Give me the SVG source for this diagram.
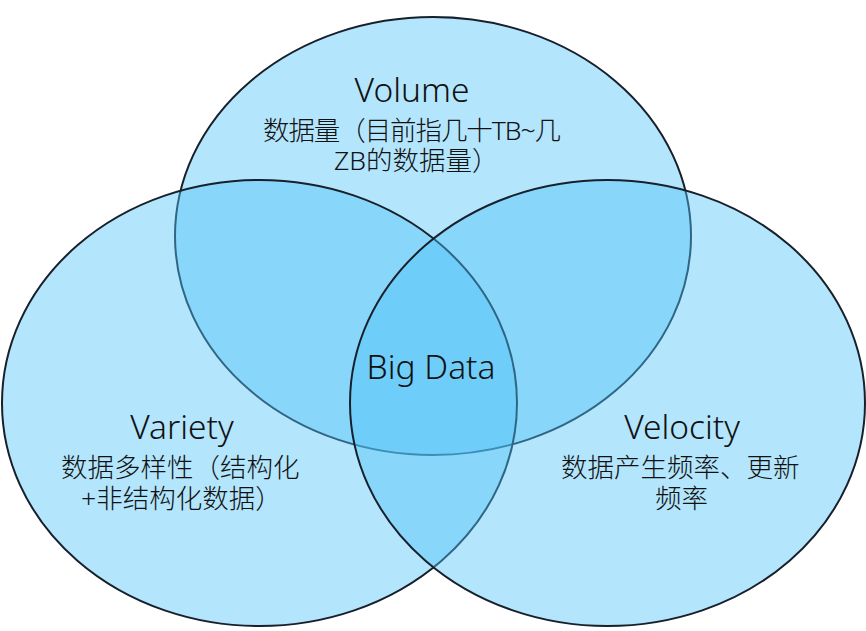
<svg xmlns="http://www.w3.org/2000/svg" width="866" height="631" viewBox="0 0 866 631">
  <style>
    .set { fill: #4fc3f7; fill-opacity: 0.43; stroke: #18202c; stroke-width: 2; }
    .title { font-family: "Noto Sans", "Open Sans", sans-serif; font-size: 33.5px; font-weight: 300; fill: #111; text-anchor: middle; }
    .desc { font-family: "Noto Sans", "Noto Sans CJK SC", sans-serif; font-size: 26.5px; font-weight: 300; fill: #111; }
  </style>
  <rect width="866" height="631" fill="#ffffff"/>
  <g id="volume">
    <ellipse class="set" cx="433" cy="236" rx="258" ry="219"/>
    <text class="title" x="412" y="102">Volume</text>
    <text class="desc" x="263" y="140" textLength="298" lengthAdjust="spacing">数据量（目前指几十TB~几</text>
    <text class="desc" x="334" y="170">ZB的数据量）</text>
  </g>
  <g id="variety">
    <ellipse class="set" cx="259.5" cy="403" rx="257.5" ry="223"/>
    <text class="title" x="182" y="439">Variety</text>
    <text class="desc" x="61" y="477">数据多样性（结构化</text>
    <text class="desc" x="81" y="508">+非结构化数据）</text>
  </g>
  <g id="velocity">
    <ellipse class="set" cx="607.5" cy="403" rx="257.5" ry="223"/>
    <text class="title" x="682" y="439">Velocity</text>
    <text class="desc" x="561" y="477">数据产生频率、更新</text>
    <text class="desc" x="655" y="508">频率</text>
  </g>
  <g id="bigdata">
    <text class="title" x="431" y="379">Big Data</text>
  </g>
  <g id="connectors"></g>
</svg>
